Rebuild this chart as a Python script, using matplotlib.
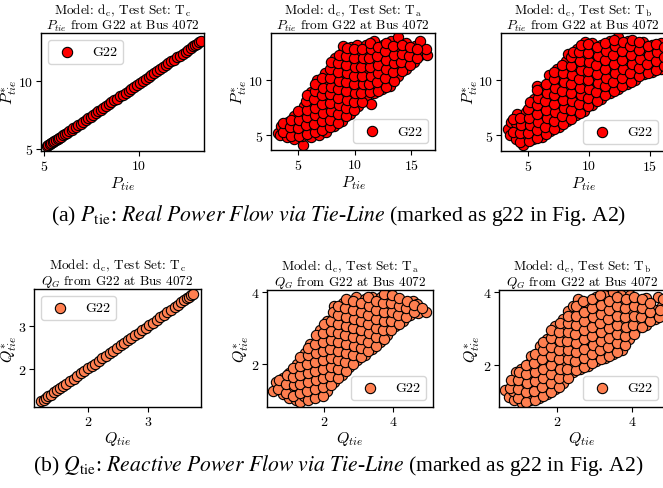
import matplotlib
matplotlib.use("Agg")
import matplotlib.pyplot as plt

plt.rcParams['font.family'] = 'serif'
plt.rcParams['font.serif'] = ['cmr10', 'DejaVu Serif']
plt.rcParams['mathtext.fontset'] = 'cm'
plt.rcParams['axes.formatter.use_mathtext'] = True
plt.rcParams['axes.unicode_minus'] = False

# ---------------- data ----------------
legend_label = "G22"
bus_text = "from G22 at Bus 4072"

# Row (a): P_tie, test set T_c (near-perfect diagonal)
p_tc_x = [5.15, 5.22, 5.3, 5.38, 5.45, 5.55, 5.63, 5.72, 5.8, 5.9, 6.0, 6.1, 6.2, 6.32, 6.45,
          6.55, 6.68, 6.8, 6.92, 7.05, 7.2, 7.32, 7.45, 7.6, 7.72, 7.85, 8.0, 8.12, 8.25, 8.4,
          8.55, 8.7, 8.85, 9.0, 9.15, 9.3, 9.45, 9.6, 9.75, 9.9, 10.05, 10.2, 10.35, 10.5,
          10.65, 10.8, 10.95, 11.1, 11.25, 11.4, 11.55, 11.7, 11.85, 12.0, 12.15, 12.3, 12.45,
          12.6, 12.72, 12.85, 12.95, 13.05, 13.15, 13.25]
p_tc_y = [5.2, 5.27, 5.34, 5.42, 5.48, 5.58, 5.65, 5.73, 5.81, 5.9, 6.0, 6.09, 6.19, 6.3, 6.42,
          6.52, 6.64, 6.76, 6.87, 6.99, 7.14, 7.25, 7.38, 7.52, 7.63, 7.76, 7.9, 8.02, 8.14, 8.28,
          8.43, 8.57, 8.71, 8.86, 9.0, 9.14, 9.29, 9.43, 9.58, 9.72, 9.86, 10.01, 10.15, 10.29,
          10.44, 10.58, 10.72, 10.87, 11.01, 11.15, 11.3, 11.44, 11.58, 11.73, 11.87, 12.01,
          12.16, 12.3, 12.42, 12.54, 12.64, 12.74, 12.85, 12.95]

# Row (a): P_tie, test set T_a
p_ta_pts = [
    (3.2, 5.2), (3.5, 5.8), (3.4, 5.0),
    (4.0, 4.8), (4.0, 5.5), (4.1, 6.2), (3.8, 5.9),
    (4.6, 4.6), (4.7, 5.3), (4.8, 6.0), (4.6, 6.7),
    (5.4, 4.1), (5.3, 4.9), (5.5, 5.6), (5.4, 6.3), (5.3, 7.0), (5.5, 7.6),
    (6.1, 4.8), (6.0, 5.5), (6.2, 6.2), (6.1, 6.9), (6.0, 7.6), (6.2, 8.3), (6.1, 8.9),
    (6.8, 5.0), (6.7, 5.8), (6.9, 6.5), (6.8, 7.2), (6.7, 8.0), (6.9, 8.7), (6.8, 9.4), (6.7, 10.0),
    (7.5, 5.3), (7.4, 6.0), (7.6, 6.8), (7.5, 7.5), (7.4, 8.3), (7.6, 9.0), (7.5, 9.8), (7.4, 10.6),
    (8.2, 5.8), (8.1, 6.5), (8.3, 7.3), (8.2, 8.0), (8.1, 8.8), (8.3, 9.5), (8.2, 10.3), (8.1, 11.1),
    (8.3, 12.0),
    (8.9, 6.3), (8.8, 7.1), (9.0, 7.8), (8.9, 8.6), (8.8, 9.4), (9.0, 10.2), (8.9, 11.0), (8.8, 11.8),
    (9.0, 12.5), (9.0, 13.1),
    (9.6, 6.9), (9.5, 7.6), (9.7, 8.4), (9.6, 9.2), (9.5, 10.0), (9.7, 10.8), (9.6, 11.6), (9.5, 12.4),
    (9.7, 13.0),
    (10.3, 7.6), (10.2, 8.4), (10.4, 9.2), (10.3, 10.0), (10.2, 10.8), (10.4, 11.6), (10.3, 12.4),
    (10.2, 13.2),
    (11.0, 8.4), (11.4, 7.8), (10.9, 9.2), (11.1, 10.0), (11.0, 10.8), (10.9, 11.6), (11.1, 12.4),
    (11.0, 13.2),
    (11.7, 8.8), (11.6, 9.6), (11.8, 10.4), (11.7, 11.2), (11.6, 12.0), (11.8, 12.8), (11.7, 13.5),
    (12.4, 9.2), (12.3, 10.0), (12.5, 10.8), (12.4, 11.6), (12.3, 12.4), (12.5, 13.2),
    (13.1, 9.5), (13.0, 10.3), (13.2, 11.1), (13.1, 11.9), (13.0, 12.7), (13.2, 13.5),
    (13.8, 10.4), (13.7, 11.2), (13.9, 12.0), (13.8, 12.8), (13.8, 13.9),
    (14.5, 11.0), (14.4, 11.8), (14.6, 12.6), (14.5, 13.4),
    (15.2, 11.6), (15.1, 12.4), (15.3, 13.1),
    (15.8, 12.3), (15.9, 13.0), (15.8, 13.5),
    (16.4, 12.3), (16.3, 12.8),
    # in-between points
    (3.65, 5.3), (3.7, 6.1),
    (4.35, 4.9), (4.3, 5.7), (4.4, 6.4),
    (5.05, 4.9), (5.0, 5.6), (5.1, 6.4), (5.0, 7.2),
    (5.75, 5.1), (5.7, 5.9), (5.8, 6.6), (5.75, 7.3), (5.7, 8.1), (5.8, 8.6),
    (6.45, 5.3), (6.4, 6.0), (6.5, 6.8), (6.45, 7.5), (6.4, 8.3), (6.5, 9.0), (6.45, 9.6),
    (7.15, 5.5), (7.1, 6.3), (7.2, 7.0), (7.15, 7.8), (7.1, 8.6), (7.2, 9.3), (7.15, 10.2),
    (7.85, 5.7), (7.8, 6.4), (7.9, 7.2), (7.85, 7.9), (7.8, 8.7), (7.9, 9.4), (7.85, 10.2),
    (7.8, 11.0), (7.9, 11.6),
    (8.55, 6.1), (8.5, 6.9), (8.6, 7.7), (8.55, 8.4), (8.5, 9.2), (8.6, 9.9), (8.55, 10.7),
    (8.5, 11.5), (8.6, 12.3),
    (9.25, 6.7), (9.2, 7.5), (9.3, 8.2), (9.25, 9.0), (9.2, 9.8), (9.3, 10.6), (9.25, 11.4),
    (9.2, 12.2), (9.3, 12.9),
    (9.95, 7.3), (9.9, 8.0), (10.0, 8.8), (9.95, 9.6), (9.9, 10.4), (10.0, 11.2), (9.95, 12.0),
    (9.9, 12.8),
    (10.65, 8.0), (10.6, 8.8), (10.7, 9.6), (10.65, 10.4), (10.6, 11.2), (10.7, 12.0), (10.65, 12.8),
    (11.35, 8.9), (11.3, 9.6), (11.4, 10.4), (11.35, 11.2), (11.3, 12.0), (11.4, 12.8), (11.35, 13.4),
    (12.05, 9.0), (12.0, 9.8), (12.1, 10.6), (12.05, 11.4), (12.0, 12.2), (12.1, 13.0),
    (12.75, 9.4), (12.7, 10.2), (12.8, 11.0), (12.75, 11.8), (12.7, 12.6), (12.8, 13.4),
    (13.45, 9.9), (13.4, 10.7), (13.5, 11.5), (13.45, 12.3), (13.4, 13.1),
    (14.15, 10.8), (14.1, 11.6), (14.2, 12.4), (14.15, 13.2),
    (14.85, 11.4), (14.8, 12.2), (14.9, 13.0),
    (15.5, 12.0), (15.5, 12.8),
]

# Row (a): P_tie, test set T_b
p_tb_pts = [
    (3.3, 5.6), (3.5, 5.0), (3.6, 6.2),
    (4.0, 4.7), (4.1, 5.4), (4.0, 6.1), (4.1, 6.9),
    (4.6, 4.1), (4.7, 4.9), (4.8, 5.6), (4.7, 6.3), (4.8, 7.1),
    (5.4, 4.7), (5.3, 5.4), (5.5, 6.1), (5.4, 6.8), (5.3, 7.6), (5.5, 8.3), (5.7, 9.4),
    (6.1, 4.9), (6.0, 5.6), (6.2, 6.3), (6.1, 7.0), (6.0, 7.8), (6.2, 8.5), (6.1, 9.2),
    (6.8, 5.4), (6.7, 6.1), (6.9, 6.8), (6.8, 7.5), (6.7, 8.3), (6.9, 9.0), (6.8, 9.8), (6.7, 10.4),
    (7.5, 5.8), (7.4, 6.5), (7.6, 7.2), (7.5, 8.0), (7.4, 8.7), (7.6, 9.5), (7.5, 10.2), (7.4, 11.0),
    (8.2, 6.3), (8.1, 7.0), (8.3, 7.8), (8.2, 8.5), (8.1, 9.3), (8.3, 10.1), (8.2, 10.9), (8.1, 11.7),
    (8.3, 12.3),
    (8.9, 6.8), (8.8, 7.5), (9.0, 8.3), (8.9, 9.0), (8.8, 9.8), (9.0, 10.6), (8.9, 11.4), (8.8, 12.2),
    (9.0, 12.8),
    (9.6, 7.2), (9.5, 8.0), (9.7, 8.8), (9.6, 9.6), (9.5, 10.4), (9.7, 11.2), (9.6, 12.0), (9.5, 12.8),
    (9.7, 13.4),
    (10.2, 7.7), (10.3, 8.5), (10.4, 9.3), (10.3, 10.1), (10.2, 10.9), (10.4, 11.7), (10.3, 12.5),
    (10.2, 13.3),
    (11.0, 8.3), (10.9, 9.1), (11.1, 9.9), (11.0, 10.7), (10.9, 11.5), (11.1, 12.3), (11.0, 13.1),
    (11.7, 8.8), (11.6, 9.6), (11.8, 10.4), (11.7, 11.2), (11.6, 12.0), (11.8, 12.8), (11.7, 13.5),
    (12.4, 9.2), (12.3, 10.0), (12.5, 10.8), (12.4, 11.6), (12.3, 12.4), (12.5, 13.2), (12.4, 13.8),
    (13.1, 9.6), (13.0, 10.4), (13.2, 11.2), (13.1, 12.0), (13.0, 12.8), (13.2, 13.5),
    (13.8, 10.0), (13.7, 10.8), (13.9, 11.6), (13.8, 12.4), (13.7, 13.2),
    (14.5, 10.5), (14.4, 11.3), (14.6, 12.1), (14.5, 12.9), (14.4, 13.4),
    (15.2, 10.7), (15.1, 11.5), (15.3, 12.3), (15.2, 13.1),
    (15.9, 11.0), (15.8, 11.8), (16.0, 12.6), (15.9, 13.3),
    # in-between points
    (3.7, 5.3), (3.75, 6.5),
    (4.35, 4.4), (4.3, 5.2), (4.4, 5.9), (4.35, 6.6),
    (5.05, 4.5), (5.0, 5.2), (5.1, 5.9), (5.05, 6.6), (5.0, 7.4), (5.1, 8.0),
    (5.75, 4.8), (5.7, 5.5), (5.8, 6.2), (5.75, 6.9), (5.7, 7.7), (5.8, 8.4), (5.75, 9.1),
    (6.45, 5.1), (6.4, 5.8), (6.5, 6.6), (6.45, 7.3), (6.4, 8.1), (6.5, 8.8), (6.45, 9.6),
    (7.15, 5.6), (7.1, 6.3), (7.2, 7.1), (7.15, 7.8), (7.1, 8.6), (7.2, 9.3), (7.15, 10.1), (7.1, 10.7),
    (7.85, 6.0), (7.8, 6.7), (7.9, 7.5), (7.85, 8.2), (7.8, 9.0), (7.9, 9.8), (7.85, 10.6), (7.8, 11.3),
    (8.55, 6.5), (8.5, 7.3), (8.6, 8.1), (8.55, 8.8), (8.5, 9.6), (8.6, 10.4), (8.55, 11.2),
    (8.5, 12.0), (8.7, 12.5),
    (9.25, 7.0), (9.2, 7.8), (9.3, 8.6), (9.25, 9.3), (9.2, 10.1), (9.3, 10.9), (9.25, 11.7),
    (9.2, 12.5), (9.3, 13.1),
    (9.95, 7.6), (9.9, 8.4), (10.0, 9.2), (9.95, 10.0), (9.9, 10.8), (10.0, 11.6), (9.95, 12.4),
    (9.9, 13.2),
    (10.65, 8.1), (10.6, 8.9), (10.7, 9.7), (10.65, 10.5), (10.6, 11.3), (10.7, 12.1), (10.65, 12.9),
    (11.35, 8.6), (11.3, 9.4), (11.4, 10.2), (11.35, 11.0), (11.3, 11.8), (11.4, 12.6), (11.35, 13.3),
    (12.05, 9.0), (12.0, 9.8), (12.1, 10.6), (12.05, 11.4), (12.0, 12.2), (12.1, 13.0), (12.05, 13.6),
    (12.75, 9.4), (12.7, 10.2), (12.8, 11.0), (12.75, 11.8), (12.7, 12.6), (12.8, 13.4),
    (13.45, 9.8), (13.4, 10.6), (13.5, 11.4), (13.45, 12.2), (13.4, 13.0), (13.5, 13.6),
    (14.15, 10.3), (14.1, 11.1), (14.2, 11.9), (14.15, 12.7), (14.1, 13.4),
    (14.85, 10.6), (14.8, 11.4), (14.9, 12.2), (14.85, 13.0),
    (15.55, 10.9), (15.5, 11.7), (15.6, 12.5), (15.55, 13.2),
    (16.2, 11.2), (16.2, 12.0), (16.2, 12.9),
]

# Row (b): Q_tie, test set T_c (near-perfect diagonal)
q_tc_x = [1.22, 1.26, 1.3, 1.34, 1.39, 1.44, 1.49, 1.54, 1.59, 1.64, 1.7, 1.76, 1.82, 1.88, 1.94,
          2.0, 2.06, 2.12, 2.18, 2.24, 2.3, 2.36, 2.42, 2.48, 2.54, 2.6, 2.66, 2.72, 2.78, 2.84,
          2.9, 2.96, 3.02, 3.08, 3.14, 3.2, 3.26, 3.32, 3.38, 3.44, 3.5, 3.55, 3.6, 3.64, 3.68,
          3.72, 3.75]
q_tc_y = [1.25, 1.29, 1.33, 1.37, 1.41, 1.46, 1.51, 1.56, 1.61, 1.66, 1.72, 1.78, 1.84, 1.9, 1.96,
          2.02, 2.07, 2.13, 2.19, 2.25, 2.31, 2.37, 2.43, 2.49, 2.55, 2.61, 2.67, 2.73, 2.79, 2.84,
          2.9, 2.96, 3.02, 3.08, 3.14, 3.2, 3.26, 3.32, 3.38, 3.44, 3.5, 3.55, 3.6, 3.64, 3.68,
          3.72, 3.75]

# Row (b): Q_tie, test set T_a
q_ta_pts = [
    (0.52, 1.25), (0.6, 1.5),
    (0.8, 1.15), (0.78, 1.4), (0.82, 1.6),
    (1.0, 1.05), (1.02, 1.3), (0.98, 1.55), (1.0, 1.75),
    (1.2, 1.0), (1.22, 1.25), (1.18, 1.5), (1.2, 1.75), (1.22, 2.0),
    (1.3, 0.95),
    (1.42, 1.1), (1.4, 1.35), (1.44, 1.6), (1.42, 1.85), (1.4, 2.1), (1.44, 2.3),
    (1.64, 1.15), (1.62, 1.4), (1.66, 1.65), (1.64, 1.9), (1.62, 2.15), (1.66, 2.4), (1.6, 2.55),
    (1.86, 1.2), (1.84, 1.45), (1.88, 1.7), (1.86, 1.95), (1.84, 2.2), (1.88, 2.45), (1.86, 2.7),
    (1.9, 2.95),
    (2.08, 1.25), (2.06, 1.5), (2.1, 1.75), (2.08, 2.0), (2.06, 2.25), (2.1, 2.5), (2.08, 2.75),
    (2.06, 3.0), (2.1, 3.2),
    (2.3, 1.5), (2.28, 1.75), (2.32, 2.0), (2.3, 2.25), (2.28, 2.5), (2.32, 2.75), (2.3, 3.0),
    (2.28, 3.35), (2.3, 3.6),
    (2.52, 1.7), (2.5, 1.95), (2.54, 2.2), (2.52, 2.45), (2.5, 2.7), (2.54, 2.95), (2.52, 3.2),
    (2.5, 3.45), (2.54, 3.7),
    (2.74, 1.9), (2.72, 2.15), (2.76, 2.4), (2.74, 2.65), (2.72, 2.9), (2.76, 3.15), (2.74, 3.4),
    (2.72, 3.65),
    (2.96, 2.1), (2.94, 2.35), (2.98, 2.6), (2.96, 2.85), (2.94, 3.1), (2.98, 3.35), (2.96, 3.6),
    (2.94, 3.85),
    (3.18, 2.25), (3.16, 2.5), (3.2, 2.75), (3.18, 3.0), (3.16, 3.25), (3.2, 3.5), (3.18, 3.8),
    (3.4, 2.4), (3.38, 2.65), (3.42, 2.9), (3.4, 3.15), (3.38, 3.4), (3.42, 3.65), (3.4, 3.85),
    (3.62, 2.6), (3.6, 2.85), (3.64, 3.1), (3.62, 3.35), (3.6, 3.6), (3.64, 3.85),
    (3.84, 2.8), (3.82, 3.05), (3.86, 3.3), (3.84, 3.55), (3.82, 3.8), (3.9, 4.0),
    (4.06, 3.05), (4.04, 3.3), (4.08, 3.55), (4.06, 3.8),
    (4.28, 3.2), (4.26, 3.45), (4.3, 3.7),
    (4.5, 3.35), (4.48, 3.6), (4.58, 3.75),
    (4.72, 3.4), (4.7, 3.65),
    (4.97, 3.45),
    # in-between points
    (0.68, 1.3), (0.7, 1.55),
    (0.9, 1.2), (0.9, 1.45), (0.92, 1.7),
    (1.1, 1.1), (1.12, 1.4), (1.1, 1.62), (1.1, 1.88),
    (1.31, 1.2), (1.3, 1.45), (1.32, 1.7), (1.31, 1.95), (1.3, 2.2),
    (1.53, 1.0), (1.52, 1.25), (1.54, 1.5), (1.53, 1.75), (1.52, 2.0), (1.54, 2.25), (1.53, 2.45),
    (1.75, 1.05), (1.74, 1.3), (1.76, 1.55), (1.75, 1.8), (1.74, 2.05), (1.76, 2.3), (1.75, 2.55),
    (1.76, 2.8),
    (1.97, 1.1), (1.96, 1.35), (1.98, 1.6), (1.97, 1.85), (1.96, 2.1), (1.98, 2.35), (1.97, 2.6),
    (1.96, 2.85), (2.0, 3.1),
    (2.19, 1.4), (2.18, 1.65), (2.2, 1.9), (2.19, 2.15), (2.18, 2.4), (2.2, 2.65), (2.19, 2.9),
    (2.2, 3.2), (2.25, 3.45),
    (2.41, 1.6), (2.4, 1.85), (2.42, 2.1), (2.41, 2.35), (2.4, 2.6), (2.42, 2.85), (2.41, 3.1),
    (2.4, 3.35), (2.42, 3.6),
    (2.63, 1.8), (2.62, 2.05), (2.64, 2.3), (2.63, 2.55), (2.62, 2.8), (2.64, 3.05), (2.63, 3.3),
    (2.62, 3.55), (2.64, 3.8),
    (2.85, 2.0), (2.84, 2.25), (2.86, 2.5), (2.85, 2.75), (2.84, 3.0), (2.86, 3.25), (2.85, 3.5),
    (2.84, 3.75),
    (3.07, 2.2), (3.06, 2.45), (3.08, 2.7), (3.07, 2.95), (3.06, 3.2), (3.08, 3.45), (3.07, 3.7),
    (3.29, 2.35), (3.28, 2.6), (3.3, 2.85), (3.29, 3.1), (3.28, 3.35), (3.3, 3.6), (3.29, 3.85),
    (3.51, 2.5), (3.5, 2.75), (3.52, 3.0), (3.51, 3.25), (3.5, 3.5), (3.52, 3.75),
    (3.73, 2.7), (3.72, 2.95), (3.74, 3.2), (3.73, 3.45), (3.72, 3.7), (3.74, 3.95),
    (3.95, 2.95), (3.94, 3.2), (3.96, 3.45), (3.95, 3.7), (3.96, 3.9),
    (4.17, 3.1), (4.16, 3.35), (4.18, 3.6), (4.17, 3.82),
    (4.39, 3.3), (4.38, 3.55), (4.4, 3.75),
    (4.61, 3.45), (4.62, 3.62),
    (4.85, 3.55),
]

# Row (b): Q_tie, test set T_b
q_tb_pts = [
    (0.61, 1.32), (0.72, 1.12),
    (0.85, 1.05), (0.83, 1.3), (0.87, 1.55), (0.9, 1.8),
    (1.07, 0.97), (1.05, 1.22), (1.09, 1.47), (1.07, 1.72), (1.05, 1.9),
    (1.29, 1.05), (1.27, 1.3), (1.31, 1.55), (1.29, 1.8), (1.27, 2.05), (1.31, 2.25),
    (1.51, 1.1), (1.49, 1.35), (1.53, 1.6), (1.51, 1.85), (1.49, 2.1), (1.53, 2.35), (1.55, 2.52),
    (1.73, 1.2), (1.71, 1.45), (1.75, 1.7), (1.73, 1.95), (1.71, 2.2), (1.75, 2.45), (1.73, 2.7),
    (1.95, 1.35), (1.93, 1.6), (1.97, 1.85), (1.95, 2.1), (1.93, 2.35), (1.97, 2.6), (1.95, 2.85),
    (1.95, 3.06),
    (2.17, 1.5), (2.15, 1.75), (2.19, 2.0), (2.17, 2.25), (2.15, 2.5), (2.19, 2.75), (2.17, 3.0),
    (2.15, 3.25),
    (2.43, 1.8), (2.37, 2.0), (2.41, 2.25), (2.39, 2.5), (2.37, 2.75), (2.41, 3.0), (2.39, 3.25),
    (2.3, 3.48), (2.42, 3.6),
    (2.61, 1.9), (2.59, 2.15), (2.63, 2.4), (2.61, 2.65), (2.59, 2.9), (2.63, 3.15), (2.61, 3.4),
    (2.56, 3.8), (2.6, 3.65),
    (2.83, 1.97), (2.81, 2.22), (2.85, 2.47), (2.83, 2.72), (2.81, 2.97), (2.85, 3.22), (2.83, 3.47),
    (2.81, 3.72),
    (3.05, 2.1), (3.03, 2.35), (3.07, 2.6), (3.05, 2.85), (3.03, 3.1), (3.07, 3.35), (3.05, 3.6),
    (3.03, 3.85),
    (3.27, 2.2), (3.25, 2.45), (3.29, 2.7), (3.27, 2.95), (3.25, 3.2), (3.29, 3.45), (3.27, 3.7),
    (3.25, 3.92),
    (3.49, 2.3), (3.47, 2.55), (3.51, 2.8), (3.49, 3.05), (3.47, 3.3), (3.51, 3.55), (3.49, 3.8),
    (3.5, 4.0),
    (3.73, 2.4), (3.69, 2.65), (3.73, 2.9), (3.71, 3.15), (3.69, 3.4), (3.73, 3.65), (3.71, 3.9),
    (3.93, 2.7), (3.91, 2.95), (3.95, 3.2), (3.93, 3.45), (3.91, 3.7), (3.95, 3.9),
    (4.13, 3.0), (4.15, 3.25), (4.17, 3.5), (4.15, 3.75),
    (4.37, 3.1), (4.35, 3.35), (4.39, 3.6), (4.37, 3.82),
    (4.6, 3.25), (4.62, 3.5), (4.7, 3.86), (4.8, 3.6),
    # in-between points
    (0.74, 1.38), (0.78, 1.6),
    (0.96, 1.1), (0.95, 1.35), (0.97, 1.6), (0.98, 1.82),
    (1.18, 1.0), (1.17, 1.25), (1.19, 1.5), (1.18, 1.75), (1.17, 2.0),
    (1.4, 1.05), (1.39, 1.3), (1.41, 1.55), (1.4, 1.8), (1.39, 2.05), (1.41, 2.3),
    (1.62, 1.15), (1.61, 1.4), (1.63, 1.65), (1.62, 1.9), (1.61, 2.15), (1.63, 2.4), (1.62, 2.62),
    (1.84, 1.25), (1.83, 1.5), (1.85, 1.75), (1.84, 2.0), (1.83, 2.25), (1.85, 2.5), (1.84, 2.75),
    (1.85, 2.95),
    (2.06, 1.4), (2.05, 1.65), (2.07, 1.9), (2.06, 2.15), (2.05, 2.4), (2.07, 2.65), (2.06, 2.9),
    (2.07, 3.15),
    (2.28, 1.65), (2.27, 1.9), (2.29, 2.15), (2.28, 2.4), (2.27, 2.65), (2.29, 2.9), (2.28, 3.15),
    (2.3, 3.35),
    (2.5, 1.85), (2.49, 2.1), (2.51, 2.35), (2.5, 2.6), (2.49, 2.85), (2.51, 3.1), (2.5, 3.35),
    (2.5, 3.6),
    (2.72, 1.95), (2.71, 2.2), (2.73, 2.45), (2.72, 2.7), (2.71, 2.95), (2.73, 3.2), (2.72, 3.45),
    (2.7, 3.75),
    (2.94, 2.05), (2.93, 2.3), (2.95, 2.55), (2.94, 2.8), (2.93, 3.05), (2.95, 3.3), (2.94, 3.55),
    (2.93, 3.8),
    (3.16, 2.15), (3.15, 2.4), (3.17, 2.65), (3.16, 2.9), (3.15, 3.15), (3.17, 3.4), (3.16, 3.65),
    (3.15, 3.9),
    (3.38, 2.25), (3.37, 2.5), (3.39, 2.75), (3.38, 3.0), (3.37, 3.25), (3.39, 3.5), (3.38, 3.75),
    (3.6, 2.35), (3.59, 2.6), (3.61, 2.85), (3.6, 3.1), (3.59, 3.35), (3.61, 3.6), (3.6, 3.85),
    (3.82, 2.55), (3.81, 2.8), (3.83, 3.05), (3.82, 3.3), (3.81, 3.55), (3.83, 3.8),
    (4.04, 2.85), (4.03, 3.1), (4.05, 3.35), (4.04, 3.6), (4.05, 3.85),
    (4.26, 3.05), (4.25, 3.3), (4.27, 3.55), (4.26, 3.8),
    (4.48, 3.2), (4.47, 3.45), (4.49, 3.7),
    (4.72, 3.3), (4.75, 3.5), (4.82, 3.8),
]

p_ticks = {"c": ([5, 10], [5, 10]), "a": ([5, 10, 15], [5, 10]), "b": ([5, 10, 15], [5, 10])}
q_ticks = {"c": ([2, 3], [2, 3]), "a": ([2, 4], [2, 4]), "b": ([2, 4], [2, 4])}

caption_a = (r"(a) $P_{\mathrm{tie}}$: $\mathit{Real\ Power\ Flow\ via\ Tie}$-$\mathit{Line}$"
             r" (marked as g22 in Fig. A2)")
caption_b = (r"(b) $Q_{\mathrm{tie}}$: $\mathit{Reactive\ Power\ Flow\ via\ Tie}$-$\mathit{Line}$"
             r" (marked as g22 in Fig. A2)")

# ---------------- layout / style ----------------
W, H = 663, 489
fig = plt.figure(figsize=(W / 100, H / 100), dpi=100)

def rect(x0, y0, x1, y1):
    return [x0 / W, 1 - y1 / H, (x1 - x0) / W, (y1 - y0) / H]

p_red = "#ff0000"
q_org = "#ff7f50"

def xy(pts):
    return [p[0] for p in pts], [p[1] for p in pts]

panels = [
    # (rect, x, y, color, quantity, set, legend loc, xlim, ylim, ylabel x)
    (rect(41, 34, 204, 152), p_tc_x, p_tc_y, p_red, "P", "c", "upper left",
     (4.84, 13.42), (4.85, 13.53), -0.135),
    (rect(271, 34, 435, 151), *xy(p_ta_pts), p_red, "P", "a", "lower right",
     (2.6, 17.1), (3.64, 14.27), -0.134),
    (rect(501, 34, 665, 152), *xy(p_tb_pts), p_red, "P", "b", "lower right",
     (2.75, 16.25), (3.6, 14.2), -0.128),
    (rect(34, 290, 201, 408), q_tc_x, q_tc_y, q_org, "Q", "c", "upper left",
     (1.1, 3.88), (1.12, 3.86), -0.09),
    (rect(267, 291, 433, 408), *xy(q_ta_pts), q_org, "Q", "a", "lower right",
     (0.35, 5.16), (0.8, 4.05), -0.096),
    (rect(499, 291, 665, 408), *xy(q_tb_pts), q_org, "Q", "b", "lower right",
     (0.45, 4.88), (0.85, 4.05), -0.102),
]

for r, xs, ys, col, qty, ts, loc, xl, yl, ylx in panels:
    ax = fig.add_axes(r)
    ax.scatter(xs, ys, s=55, c=col, edgecolors="black", linewidths=0.8, label=legend_label, zorder=2)
    ax.set_xlim(*xl)
    ax.set_ylim(*yl)
    if qty == "P":
        xt, yt = p_ticks[ts]
        ax.set_xlabel(r"$P_{tie}$", fontsize=11.5, labelpad=1)
        ax.set_ylabel(r"$P^{*}_{tie}$", fontsize=11.5)
        sub = r"$P_{tie}$ " + bus_text
    else:
        xt, yt = q_ticks[ts]
        ax.set_xlabel(r"$Q_{tie}$", fontsize=11.5, labelpad=1)
        ax.set_ylabel(r"$Q^{*}_{tie}$", fontsize=11.5)
        sub = r"$Q_G$ " + bus_text
    ax.yaxis.set_label_coords(ylx, 0.5)
    ax.set_xticks(xt)
    ax.set_yticks(yt)
    ax.tick_params(labelsize=10, length=3.5, width=0.8, pad=2)
    for s in ax.spines.values():
        s.set_linewidth(1.0)
    ax.set_title(r"Model: $\mathrm{d_c}$, Test Set: $\mathrm{T_" + ts + "}$\n" + sub,
                 fontsize=9.5, pad=3, linespacing=1.0)
    ax.legend(loc=loc, fontsize=10, scatterpoints=1)

fig.text(339 / W, 1 - 216 / H, caption_a, ha="center", va="center", fontsize=15.7,
         family="Liberation Serif", math_fontfamily="stix")
fig.text(338.5 / W, 1 - 466 / H, caption_b, ha="center", va="center", fontsize=15.6,
         family="Liberation Serif", math_fontfamily="stix")

fig.savefig("out.png", dpi=100)
